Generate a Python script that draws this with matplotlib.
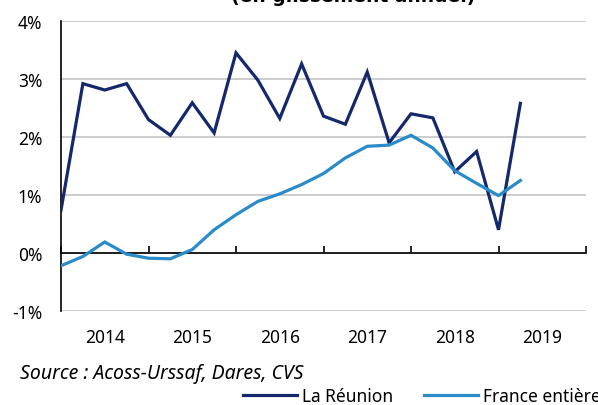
import matplotlib
matplotlib.use("Agg")
import matplotlib.pyplot as plt
import numpy as np

plt.rcParams['font.family'] = ['Noto Sans', 'DejaVu Sans']

# Quarterly data, 2014Q1 .. 2019Q2 (year-on-year change, %)
quarters = ["2014T1", "2014T2", "2014T3", "2014T4",
            "2015T1", "2015T2", "2015T3", "2015T4",
            "2016T1", "2016T2", "2016T3", "2016T4",
            "2017T1", "2017T2", "2017T3", "2017T4",
            "2018T1", "2018T2", "2018T3", "2018T4",
            "2019T1", "2019T2"]
reunion = [0.74, 2.92, 2.81, 2.92, 2.30, 2.03, 2.59, 2.07,
           3.45, 2.98, 2.32, 3.26, 2.36, 2.22, 3.12, 1.90,
           2.40, 2.33, 1.40, 1.75, 0.40, 2.58]
france = [-0.22, -0.06, 0.19, -0.02, -0.09, -0.10, 0.06, 0.40,
          0.66, 0.89, 1.02, 1.18, 1.37, 1.64, 1.84, 1.86,
          2.03, 1.81, 1.42, 1.20, 0.99, 1.25]
years = ["2014", "2015", "2016", "2017", "2018", "2019"]
y_ticks = [-1, 0, 1, 2, 3, 4]
y_labels = ["-1%", "0%", "1%", "2%", "3%", "4%"]

title = "(en glissement annuel)"
source = "Source : Acoss-Urssaf, Dares, CVS"
series_names = ["La Réunion", "France entière"]

c_reunion = "#14286b"
c_france = "#2a8bc9"
fs = 12.5

fig = plt.figure(figsize=(5.98, 4.06), dpi=100)
ax = fig.add_axes([61/598, 1-312/406, (586-61)/598, (312-22)/406])

x = np.arange(len(quarters))
ax.plot(x, reunion, color=c_reunion, lw=2.3, label=series_names[0],
        solid_joinstyle='miter', zorder=3)
ax.plot(x, france, color=c_france, lw=2.3, label=series_names[1],
        solid_joinstyle='miter', zorder=3)

ax.set_xlim(0, 24)
ax.set_ylim(-1, 4)
ax.set_yticks(y_ticks, y_labels)
ax.yaxis.grid(True, color="#c3c3c3", lw=1.2)
ax.set_axisbelow(True)
ax.tick_params(axis='y', length=0, pad=13.5, labelsize=fs)

for s in ['top', 'right']:
    ax.spines[s].set_visible(False)
ax.spines['left'].set_color('black')
ax.spines['left'].set_linewidth(1.2)
# horizontal category axis crosses at 0%
ax.spines['bottom'].set_position(('data', 0))
ax.spines['bottom'].set_color('black')
ax.spines['bottom'].set_linewidth(1.2)
ax.spines['bottom'].set_zorder(2.5)

# category tick marks (between years) pointing up, year labels below the plot
ax.set_xticks([4*i for i in range(7)], [""] * 7)
ax.tick_params(axis='x', which='major', direction='in', length=5, width=1.2,
               color='black')
ax.set_xticks([2 + 4*i for i in range(len(years))], years, minor=True)
ax.tick_params(axis='x', which='minor', length=0, pad=53.8, labelsize=fs)

fig.text(353/598, 1-1.5/406, title, ha='center', va='baseline',
         fontsize=13.5, fontweight='bold', family='DejaVu Sans')
fig.text(20/598, 1-379/406, source, ha='left', va='baseline',
         fontsize=14, style='italic')

fig.legend(loc='center left', bbox_to_anchor=(243/598, 1-397/406), ncol=2,
           frameon=False, borderpad=0, borderaxespad=0, fontsize=fs,
           handlelength=3.1, handletextpad=0.3, columnspacing=1.8)

fig.savefig("out.png", dpi=100)
